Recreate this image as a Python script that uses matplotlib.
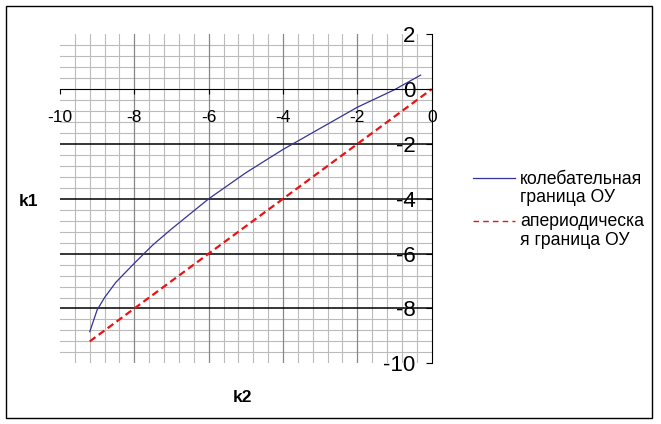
import numpy as np
import matplotlib.pyplot as plt
from matplotlib.lines import Line2D
from matplotlib.patches import Rectangle

plt.rcParams["font.family"] = ["Liberation Sans", "DejaVu Sans"]

# колебательная граница ОУ (k2, k1)
osc_k2 = [-9.2, -9.0, -8.8, -8.5, -8.0, -7.5, -7.0, -6.5, -6.0, -5.0, -4.0, -3.0, -2.0, -1.0, -0.3]
osc_k1 = [-8.85, -8.05, -7.6, -7.05, -6.35, -5.68, -5.1, -4.55, -4.0, -3.05, -2.2, -1.43, -0.66, -0.02, 0.51]

# апериодическая граница ОУ (k2, k1)
aper_k2 = [-9.2, -8.0, -6.0, -4.0, -2.0, 0.0]
aper_k1 = [-9.2, -8.0, -6.0, -4.0, -2.0, 0.0]

x_ticks = [-10, -8, -6, -4, -2, 0]
y_ticks = [2, 0, -2, -4, -6, -8, -10]
legend_labels = ["колебательная\nграница ОУ", "апериодическа\nя граница ОУ"]


def is_major(v):
    return abs(v / 2 - round(v / 2)) < 1e-6


def draw_chart():
    W, H = 661, 424
    fig = plt.figure(figsize=(W / 100, H / 100), dpi=100)
    ax = fig.add_axes([60 / W, 1 - 363.3 / H, (431.7 - 60) / W, (363.3 - 34.3) / H])
    ax.set_xlim(-10, 0)
    ax.set_ylim(-10, 2)

    # сетка: мелкая через 0.4, крупная через 2
    for x in np.arange(-9.6, -0.1, 0.4):
        if is_major(x):
            ax.axvline(x, color="#888888", lw=0.9, zorder=1)
        else:
            ax.axvline(x, color="#bbbbbb", lw=0.8, zorder=0)
    for y in np.arange(-9.6, 1.9, 0.4):
        if abs(y) < 1e-6:
            continue
        if is_major(y):
            ax.axhline(y, color="black", lw=1.1, zorder=1)
        else:
            ax.axhline(y, color="#bbbbbb", lw=0.8, zorder=0)

    # кривые
    ax.plot(osc_k2, osc_k1, color="#333399", lw=0.9, zorder=3)
    ax.plot(aper_k2, aper_k1, color="#ee1111", lw=1.6,
            linestyle=(0, (3.2, 1.8)), zorder=3)

    # оси через ноль
    for side in ["top", "right"]:
        ax.spines[side].set_visible(False)
    ax.spines["left"].set_position(("data", 0))
    ax.spines["bottom"].set_position(("data", 0))
    ax.spines["left"].set_zorder(4)
    ax.spines["bottom"].set_zorder(4)
    ax.set_xticks(x_ticks)
    ax.set_yticks(y_ticks)
    ax.set_xticklabels([str(v) for v in x_ticks])
    ax.set_yticklabels([str(v) for v in y_ticks])
    ax.tick_params(axis="x", direction="out", length=3.6, width=0.8, pad=11.5, labelsize=12.5)
    ax.tick_params(axis="y", direction="out", length=4.3, width=0.8, pad=7.5, labelsize=16)

    # подписи осей
    fig.text(29 / W, 1 - 201 / H, "k1", fontsize=12.5, fontweight="bold", ha="center", va="center")
    fig.text(243 / W, 1 - 397 / H, "k2", fontsize=12.5, fontweight="bold", ha="center", va="center")

    # легенда
    fig.add_artist(Line2D([473 / W, 515 / W], [1 - 178.3 / H, 1 - 178.3 / H],
                          color="#333399", lw=0.9, transform=fig.transFigure))
    fig.add_artist(Line2D([473 / W, 515 / W], [1 - 220.7 / H, 1 - 220.7 / H],
                          color="#ee1111", lw=1.0, linestyle=(0, (4, 3)),
                          transform=fig.transFigure))
    fig.text(520 / W, 1 - 188.5 / H, legend_labels[0], fontsize=12.7, ha="left", va="center", linespacing=1.15)
    fig.text(520 / W, 1 - 231 / H, legend_labels[1], fontsize=12.7, ha="left", va="center", linespacing=1.15)

    # рамка
    fig.add_artist(Rectangle((6 / W, 1 - 418 / H), 646 / W, 412 / H, fill=False,
                             edgecolor="black", lw=1.0, transform=fig.transFigure))

    fig.savefig("out.png", dpi=100)


if __name__ == "__main__":
    draw_chart()
